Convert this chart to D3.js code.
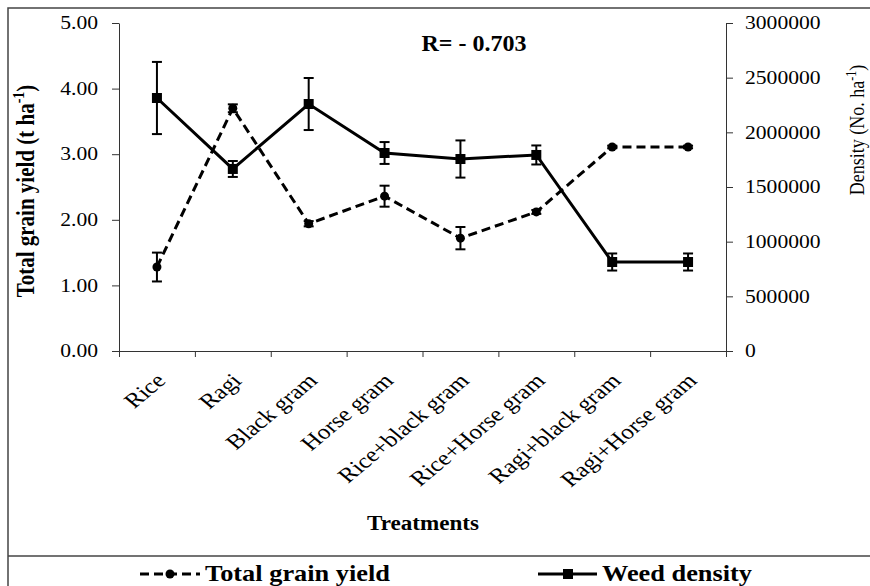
<!DOCTYPE html>
<html>
<head>
<meta charset="utf-8">
<script src="https://cdn.jsdelivr.net/npm/d3@7"></script>
<style>
  body { margin: 0; background: #fff; }
  svg { display: block; }
</style>
</head>
<body>
<script>
const categories = ["Rice", "Ragi", "Black gram", "Horse gram", "Rice+black gram", "Rice+Horse gram", "Ragi+black gram", "Ragi+Horse gram"];
const yieldVals = [1.28, 3.70, 1.94, 2.36, 1.72, 2.12, 3.11, 3.11];
const yieldErr = [0.22, 0.06, 0.04, 0.16, 0.17, 0.03, 0.02, 0.02];
const densityVals = [2314000, 1665000, 2259000, 1811000, 1756000, 1793000, 814000, 814000];
const densityErr = [330000, 73000, 238000, 100000, 170000, 87000, 78000, 78000];
const leftTicks = [0, 1, 2, 3, 4, 5];
const rightTicks = [0, 500000, 1000000, 1500000, 2000000, 2500000, 3000000];

const W = 870, H = 586;
const SX = 1.2; // the source picture is a bit wider than tall
const FONT = '"Liberation Serif", "Times New Roman", "DejaVu Serif", serif';
const plot = {left: 119, right: 726, top: 23, bottom: 351};

const svg = d3.select('body').append('svg')
  .attr('width', W).attr('height', H);

// outer frame
svg.append('path').attr('d', `M8,${H} V8 H${W}`)
  .attr('fill', 'none').attr('stroke', '#444').attr('stroke-width', 1.5);
svg.append('line').attr('x1', 8).attr('x2', W).attr('y1', 556).attr('y2', 556)
  .attr('stroke', '#444').attr('stroke-width', 1.5);

const xBand = d3.scaleBand().domain(categories).range([plot.left, plot.right]);
const xEdge = d3.scaleLinear().domain([0, categories.length]).range([plot.left, plot.right]);
const yL = d3.scaleLinear().domain([0, 5]).range([plot.bottom, plot.top]);
const yR = d3.scaleLinear().domain([0, 3000000]).range([plot.bottom, plot.top]);
const cx = (i) => xBand(categories[i]) + xBand.bandwidth() / 2;

// axes
const gL = svg.append('g').attr('transform', `translate(${plot.left},0)`)
  .call(d3.axisLeft(yL).tickValues(leftTicks).tickFormat(d3.format('.2f')).tickSize(7).tickSizeOuter(0));
gL.selectAll('.tick text').attr('x', 0)
  .attr('transform', `translate(-21,0) scale(${SX},1)`);

const gR = svg.append('g').attr('transform', `translate(${plot.right},0)`)
  .call(d3.axisRight(yR).tickValues(rightTicks).tickFormat(d3.format('d')).tickSize(7).tickSizeOuter(0));
gR.selectAll('.tick text').attr('x', 0)
  .attr('transform', `translate(19,0) scale(${SX},1)`);

svg.append('g').attr('transform', `translate(0,${plot.bottom})`)
  .call(d3.axisBottom(xEdge).tickValues(d3.range(categories.length + 1)).tickFormat('').tickSize(6).tickSizeOuter(0));

svg.selectAll('.domain, .tick line').attr('stroke', '#333');
svg.selectAll('.tick text').attr('font-size', 18).attr('fill', '#000');

// category labels
svg.append('g').selectAll('text').data(categories).join('text')
  .attr('transform', (d, i) => `translate(${cx(i) + 10},382) scale(1.2,1) rotate(-45)`)
  .attr('text-anchor', 'end')
  .attr('font-size', 21)
  .text(d => d);

// error bars
function errBars(vals, errs, y) {
  const g = svg.append('g').attr('stroke', '#000').attr('stroke-width', 2);
  vals.forEach((v, i) => {
    const x = cx(i), y1 = y(v + errs[i]), y2 = y(v - errs[i]);
    g.append('line').attr('x1', x).attr('x2', x).attr('y1', y1).attr('y2', y2);
    g.append('line').attr('x1', x - 5).attr('x2', x + 5).attr('y1', y1).attr('y2', y1);
    g.append('line').attr('x1', x - 5).attr('x2', x + 5).attr('y1', y2).attr('y2', y2);
  });
}
errBars(densityVals, densityErr, yR);
errBars(yieldVals, yieldErr, yL);

const lineL = d3.line().x((d, i) => cx(i)).y(d => yL(d));
const lineR = d3.line().x((d, i) => cx(i)).y(d => yR(d));

svg.append('path').datum(yieldVals).attr('d', lineL)
  .attr('fill', 'none').attr('stroke', '#000').attr('stroke-width', 3)
  .attr('stroke-dasharray', '9,5');
svg.append('path').datum(densityVals).attr('d', lineR)
  .attr('fill', 'none').attr('stroke', '#000').attr('stroke-width', 3);

svg.append('g').selectAll('circle').data(yieldVals).join('circle')
  .attr('cx', (d, i) => cx(i)).attr('cy', d => yL(d)).attr('r', 4.5).attr('fill', '#000');
svg.append('g').selectAll('rect').data(densityVals).join('rect')
  .attr('x', (d, i) => cx(i) - 5).attr('y', d => yR(d) - 5)
  .attr('width', 10).attr('height', 10).attr('fill', '#000');

// titles
const tL = svg.append('text')
  .attr('transform', `translate(34,191) scale(${SX},1) rotate(-90)`)
  .attr('text-anchor', 'middle').attr('font-size', 21).attr('font-weight', 'bold');
tL.append('tspan').text('Total grain yield (t ha');
tL.append('tspan').attr('font-size', 14).attr('dy', -8).text('-1');
tL.append('tspan').attr('dy', 8).text(')');

const tR = svg.append('text')
  .attr('transform', `translate(864,130) scale(${SX},1) rotate(-90)`)
  .attr('text-anchor', 'middle').attr('font-size', 18);
tR.append('tspan').text('Density (No. ha');
tR.append('tspan').attr('font-size', 12).attr('dy', -7).text('-1');
tR.append('tspan').attr('dy', 7).text(')');

svg.append('text').attr('transform', `translate(423,530) scale(1.1,1)`)
  .attr('text-anchor', 'middle').attr('font-size', 21).attr('font-weight', 'bold')
  .text('Treatments');

svg.append('text').attr('transform', `translate(474,51)`)
  .attr('text-anchor', 'middle').attr('font-size', 24).attr('font-weight', 'bold')
  .text('R= - 0.703');

// legend
const lg = svg.append('g');
lg.append('line').attr('x1', 140).attr('x2', 200).attr('y1', 574).attr('y2', 574)
  .attr('stroke', '#000').attr('stroke-width', 3).attr('stroke-dasharray', '9,5');
lg.append('circle').attr('cx', 170).attr('cy', 574).attr('r', 4.5).attr('fill', '#000');
lg.append('text').attr('x', 205).attr('y', 581)
  .attr('font-size', 23).attr('font-weight', 'bold')
  .attr('textLength', 185).attr('lengthAdjust', 'spacingAndGlyphs')
  .text('Total grain yield');

lg.append('line').attr('x1', 538).attr('x2', 597).attr('y1', 574).attr('y2', 574)
  .attr('stroke', '#000').attr('stroke-width', 3);
lg.append('rect').attr('x', 563).attr('y', 569).attr('width', 10).attr('height', 10).attr('fill', '#000');
lg.append('text').attr('x', 602).attr('y', 581)
  .attr('font-size', 23).attr('font-weight', 'bold')
  .attr('textLength', 150).attr('lengthAdjust', 'spacingAndGlyphs')
  .text('Weed density');

svg.selectAll('text').attr('font-family', FONT).attr('fill', '#000');
</script>
</body>
</html>
